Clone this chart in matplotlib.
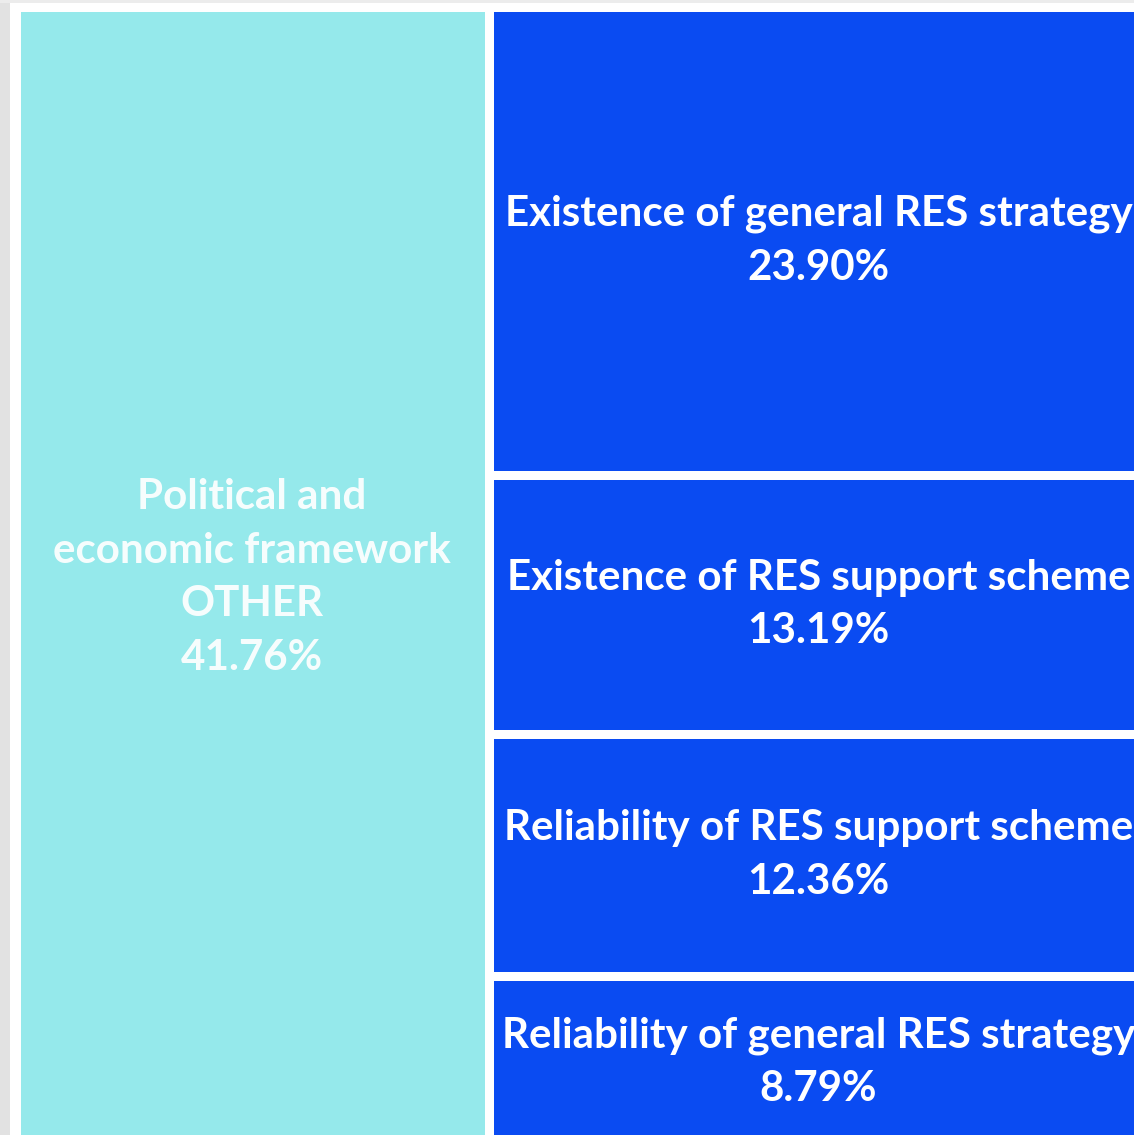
import matplotlib
matplotlib.use("Agg")
import matplotlib.pyplot as plt
from matplotlib.patches import Rectangle

# ---- data ----
main_label = "Political and\neconomic framework\nOTHER"
main_value = 41.76
sub_labels = [
    "Existence of general RES strategy",
    "Existence of RES support scheme",
    "Reliability of RES support scheme",
    "Reliability of general RES strategy",
]
sub_values = [23.90, 13.19, 12.36, 8.79]

CYAN = "#95E9EB"
BLUE = "#0A4BF2"
FONT = ["Lato", "DejaVu Sans"]
FS = 30.3
LS = 1.5

W, H = 1134, 1135
fig = plt.figure(figsize=(W / 100, H / 100), dpi=100)
fig.patch.set_facecolor("white")

# light gray frame strips (left and top)
fig.add_artist(Rectangle((0, 0), 10 / W, 1, transform=fig.transFigure,
                         facecolor="#e2e2e2", edgecolor="none"))
fig.add_artist(Rectangle((0, 1 - 3 / H), 1, 3 / H, transform=fig.transFigure,
                         facecolor="#ececec", edgecolor="none"))

gap_px = 9
half = gap_px / 2
left_px, right_px = 20 - half, 1144 + half
top_px, bot_px = 11 - half, 1144 + half
ax = fig.add_axes([left_px / W, 1 - bot_px / H,
                   (right_px - left_px) / W, (bot_px - top_px) / H])
total = main_value + sum(sub_values)
ax.set_xlim(0, total)
ax.set_ylim(total, 0)
ax.axis("off")

lw_pt = gap_px * 72 / 100

# main tile: full-height column
wx = main_value
ax.add_patch(Rectangle((0, 0), wx, total, facecolor=CYAN, edgecolor="white",
                       linewidth=lw_pt, clip_on=False))
ax.text(wx / 2, total / 2, f"{main_label}\n{main_value:.2f}%", ha="center",
        va="center", color="white", fontsize=FS, fontweight="bold",
        family=FONT, linespacing=LS, alpha=0.92)

# remaining tiles stacked in right column
rest = sum(sub_values)
y = 0
for lab, v in zip(sub_labels, sub_values):
    h = v / rest * total
    ax.add_patch(Rectangle((wx, y), total - wx, h, facecolor=BLUE,
                           edgecolor="white", linewidth=lw_pt, clip_on=False))
    ax.text(wx + (total - wx) / 2, y + h / 2, f"{lab}\n{v:.2f}%", ha="center",
            va="center", color="white", fontsize=FS, fontweight="bold",
            family=FONT, linespacing=LS)
    y += h

fig.savefig("out.png", dpi=100)
